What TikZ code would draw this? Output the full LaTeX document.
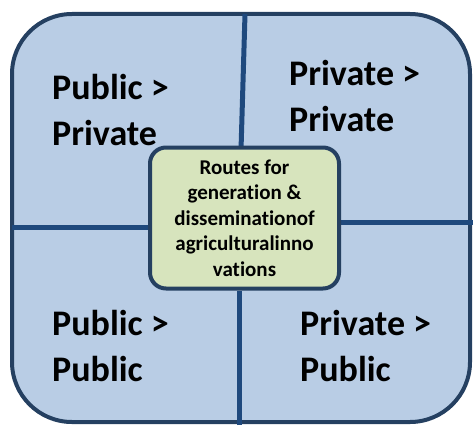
\documentclass[tikz,border=0pt]{standalone}
\usepackage{fontspec}
\setmainfont{Carlito}[Ligatures=NoCommon]
\definecolor{outerfill}{HTML}{B9CDE5}
\definecolor{outerline}{HTML}{254061}
\definecolor{divline}{HTML}{1F497D}
\definecolor{centerfill}{HTML}{D7E4BD}
\tikzset{
  quad/.style={anchor=north west, inner sep=0pt, align=left, font=\fontsize{36}{46}\selectfont\bfseries},
  divider/.style={draw=divline, line width=5pt},
}
\begin{document}
\begin{tikzpicture}[x=1pt,y=-1pt]
\useasboundingbox (0,0) rectangle (473,425);
\node[draw=outerline, fill=outerfill, line width=4pt, rounded corners=60pt, minimum width=458pt, minimum height=408pt, inner sep=0pt] (outer) at (241,218) {};
\coordinate (tt) at (245,14);
\coordinate (tb) at (241,150);
\coordinate (bt) at (239,291);
\coordinate (bb) at (239,425);
\coordinate (ll) at (12,227);
\coordinate (lr) at (150,227);
\coordinate (rl) at (340,222);
\coordinate (rr) at (473,222);
\draw[divider] (tt) -- (tb);
\draw[divider] (bt) -- (bb);
\draw[divider] (ll) -- (lr);
\draw[divider] (rl) -- (rr);
\node[draw=outerline, fill=centerfill, line width=4pt, rounded corners=16pt, minimum width=189pt, minimum height=141pt, inner sep=0pt, align=center, font=\fontsize{21}{25.5}\selectfont\bfseries] (center) at (244.5,218) {Routes for\\generation \&\\disseminationof\\agriculturalinno\\vations};
\node[quad] (pubpriv) at (52,74) {Public >\\Private};
\node[quad] (privpriv) at (289,60) {Private >\\Private};
\node[quad] (pubpub) at (52,310) {Public >\\Public};
\node[quad] (privpub) at (300,310) {Private >\\Public};
\end{tikzpicture}
\end{document}
